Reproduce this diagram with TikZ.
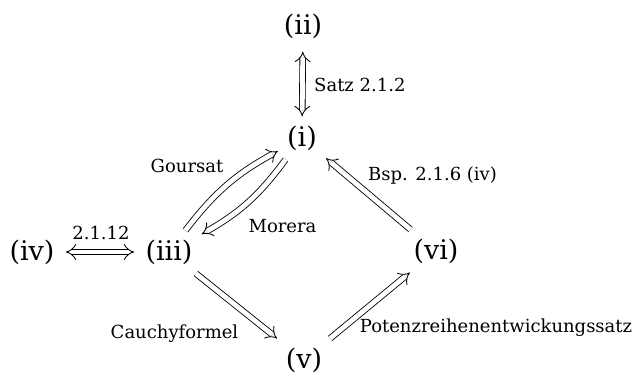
\documentclass[tikz,border=0pt]{standalone}
\usepackage{fontspec}
\setmainfont{DejaVu Serif}
\usetikzlibrary{arrows.meta}
\begin{document}
\begin{tikzpicture}[x=1pt,y=1pt,
  stmt/.style={font=\fontsize{27}{30}\selectfont, inner sep=9pt},
  lbl/.style={font=\fontsize{18}{20}\selectfont, inner sep=0pt, anchor=base},
  dbl/.style={double, double distance=4.8pt, line width=0.85pt},
  impl/.style={dbl, -{Implies}},
  equiv/.style={dbl, {Implies}-{Implies}}
]
\useasboundingbox (0,0) rectangle (635,-374);
% statements
\node[stmt] (ii)  at (303,-26)  {(ii)};
\node[stmt] (i)   at (302,-138) {(i)};
\node[stmt] (iii) at (169,-252) {(iii)};
\node[stmt] (iv)  at (32,-252)  {(iv)};
\node[stmt] (v)   at (304,-360) {(v)};
\node[stmt] (vi)  at (436,-251) {(vi)};
% implications
\draw[equiv, shorten <=4pt] (ii) -- (i);
\draw[impl] (iii) to[bend left=12] (i);
\draw[impl] (i) to[bend left=12] (iii);
\draw[equiv, shorten >=2pt, shorten <=2pt] (iv) -- (iii);
\draw[impl] (iii) -- (v);
\draw[impl] (v) -- (vi);
\draw[impl] (vi) -- (i);
% references
\node[lbl, anchor=base west] (satz) at (314,-92) {Satz 2.1.2};
\node[lbl] (goursat) at (187,-173) {Goursat};
\node[lbl] (morera) at (282.5,-233) {Morera};
\node[lbl] (ref2112) at (101,-240) {2.1.12};
\node[lbl] (bsp) at (432.5,-181) {Bsp. 2.1.6 (iv)};
\node[lbl] (cauchy) at (174.5,-338) {Cauchyformel};
\node[lbl] (potenz) at (496,-332) {Potenzreihenentwickungssatz};
\end{tikzpicture}
\end{document}
